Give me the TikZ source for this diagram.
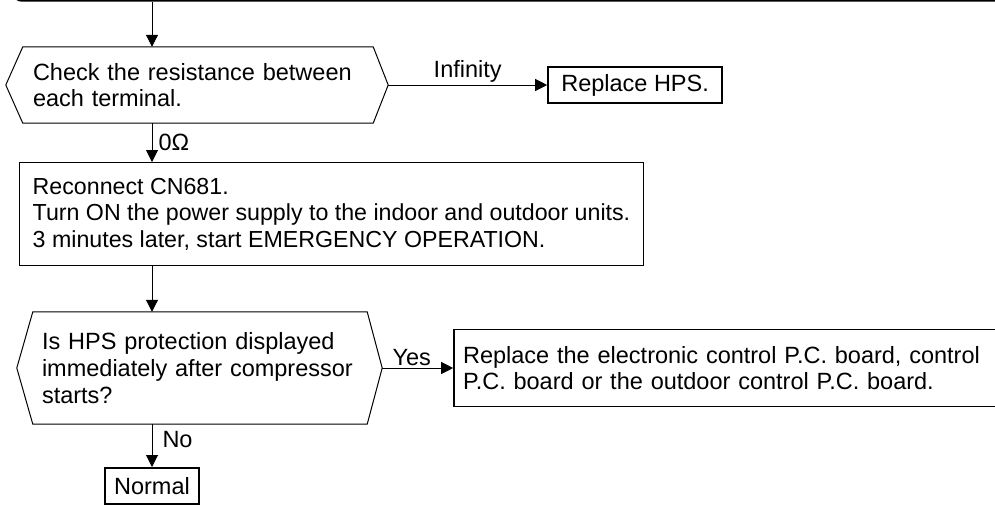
\documentclass[tikz,border=0pt]{standalone}
\usepackage{fontspec}
\setmainfont{Liberation Sans}
\usetikzlibrary{arrows.meta,positioning}

\begin{document}
\begin{tikzpicture}[x=1pt, y=-1pt,
decide/.style={minimum height=76pt, inner sep=0pt, align=left, font=\fontsize{23.5}{26.7}\selectfont},
procbox/.style={draw, line width=1pt, align=left, font=\fontsize{23.2}{26.5}\selectfont},
resbox/.style={draw, line width=1.8pt, minimum height=36pt, align=left, font=\fontsize{23.5}{26.7}\selectfont},
lbl/.style={inner sep=2pt, font=\fontsize{23.5}{26}\selectfont},
arr/.style={-{Triangle[length=12pt, width=12pt]}, line width=1pt}
]
\useasboundingbox (0,0) rectangle (995,504);

% column of the vertical arrows
\coordinate (colA) at (152,0);

% previous step, cut off at the top
\node[draw, line width=1.6pt, rounded corners=6pt, minimum width=1000pt, minimum height=40pt, anchor=south west] (prev) at (14,1.5) {};

% resistance check
\node[decide, text width=330pt, minimum width=350pt] (chk) at (198,85) {Check the resistance between\\each terminal.};
\coordinate (chkR) at ([xshift=15pt]chk.east);
\coordinate (chkL) at ([xshift=-17pt]chk.west);
\draw[line width=1pt] (chk.north west) -- (chk.north east) -- (chkR) -- (chk.south east) -- (chk.south west) -- (chkL) -- cycle;

\node[resbox, minimum width=174pt, right=159pt of chkR] (hps) {Replace HPS.};

% reconnect and restart
\node[procbox, minimum width=624pt, minimum height=103pt, anchor=north west] (act) at (19,162) {Reconnect CN681.\\Turn ON the power supply to the indoor and outdoor units.\\3 minutes later, start EMERGENCY OPERATION.};

% protection check
\node[decide, text width=316pt, minimum width=334pt, minimum height=112pt] (prot) at (200,368) {Is HPS protection displayed\\immediately after compressor\\starts?};
\coordinate (protR) at ([xshift=15pt]prot.east);
\coordinate (protL) at ([xshift=-16pt]prot.west);
\draw[line width=1pt] (prot.north west) -- (prot.north east) -- (protR) -- (prot.south east) -- (prot.south west) -- (protL) -- cycle;

\node[resbox, text width=560pt, minimum height=77pt, inner xsep=9pt, right=71pt of protR] (brd) {Replace the electronic control P.C. board, control\\P.C. board or the outdoor control P.C. board.};
\node[resbox, minimum width=94pt, anchor=north] (ok) at (152,467) {Normal};

% flow arrows
\draw[arr] (prev.south -| colA) -- (chk.north -| colA);
\draw[arr] (chkR) -- node[above, lbl] {Infinity} (hps);
\draw[arr] (chk.south -| colA) -- node[right, lbl, xshift=4pt] {0Ω} (act.north -| colA);
\draw[arr] (act.south -| colA) -- (prot.north -| colA);
\draw[arr] (protR) -- node[above, lbl, xshift=-6pt] {Yes} (brd);
\draw[arr] (prot.south -| ok) -- node[right, lbl, pos=0.35, xshift=8pt] {No} (ok);
\end{tikzpicture}
\end{document}
